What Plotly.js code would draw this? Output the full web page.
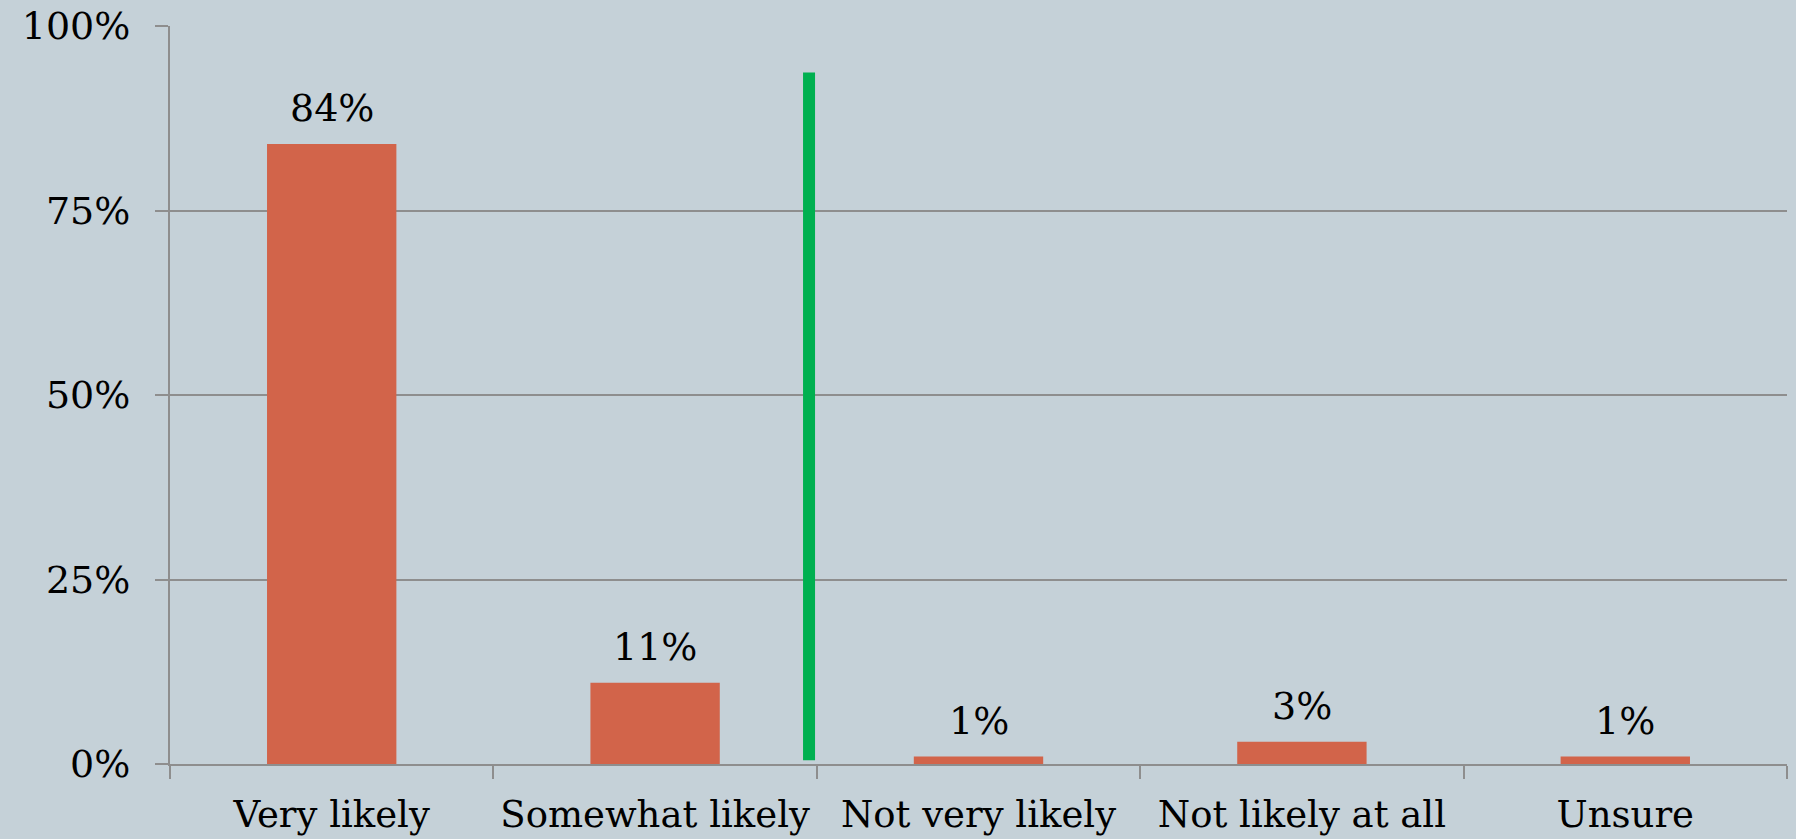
<!DOCTYPE html>
<html>
<head>
<meta charset="utf-8">
<script src="https://cdn.plot.ly/plotly-3.0.1.min.js"></script>
<style>
  html, body { margin: 0; padding: 0; background: #c5d1d8; }
  #chart { width: 1796px; height: 839px; }
</style>
</head>
<body>
<div id="chart"></div>
<script>
// Survey responses: how likely respondents are
const categories = ["Very likely", "Somewhat likely", "Not very likely", "Not likely at all", "Unsure"];
const shares = [84, 11, 1, 3, 1];
const valueLabels = ["84%", "11%", "1%", "3%", "1%"];
const yTickValues = [0, 25, 50, 75, 100];
const yTickLabels = ["0%", "25%", "50%", "75%", "100%"];

// Green divider separating "likely" answers from the rest
const dividerX = [1.476, 1.476];
const dividerY = [0.5, 93.7];

const FONT = "DejaVu Serif, Georgia, serif";
const GRID = "#8e8e8e";

const bars = {
  type: "bar",
  x: categories,
  y: shares,
  width: 0.4,
  marker: { color: "#d2644a", line: { width: 0 } },
  hoverinfo: "skip"
};

const annotations = categories.map((c, i) => ({
  x: c,
  y: shares[i],
  xref: "x",
  yref: "y",
  text: valueLabels[i],
  showarrow: false,
  yanchor: "bottom",
  yshift: 12,
  font: { family: FONT, size: 38, color: "#000" }
}));

const layout = {
  width: 1796,
  height: 839,
  margin: { l: 170, r: 9, t: 26, b: 75 },
  paper_bgcolor: "#c5d1d8",
  plot_bgcolor: "#c5d1d8",
  showlegend: false,
  bargap: 0.6,
  xaxis: {
    type: "category",
    showgrid: false,
    showline: true,
    linecolor: GRID,
    linewidth: 2,
    ticks: "outside",
    tickson: "boundaries",
    ticklen: 13,
    tickcolor: GRID,
    tickwidth: 2,
    ticklabelstandoff: 17,
    tickfont: { family: FONT, size: 37, color: "#000" },
    zeroline: false
  },
  yaxis: {
    range: [0, 100],
    tickvals: yTickValues,
    ticktext: yTickLabels,
    showgrid: true,
    gridcolor: GRID,
    gridwidth: 2,
    showline: true,
    linecolor: GRID,
    linewidth: 2,
    ticks: "outside",
    ticklen: 13,
    tickcolor: GRID,
    tickwidth: 2,
    ticklabelstandoff: 17,
    tickfont: { family: FONT, size: 38, color: "#000" },
    zeroline: false
  },
  shapes: [{
    type: "line",
    xref: "x",
    yref: "y",
    x0: dividerX[0], x1: dividerX[1],
    y0: dividerY[0], y1: dividerY[1],
    line: { color: "#00b050", width: 12 }
  }],
  annotations: annotations
};

Plotly.newPlot("chart", [bars], layout, { staticPlot: true, displayModeBar: false });
</script>
</body>
</html>
